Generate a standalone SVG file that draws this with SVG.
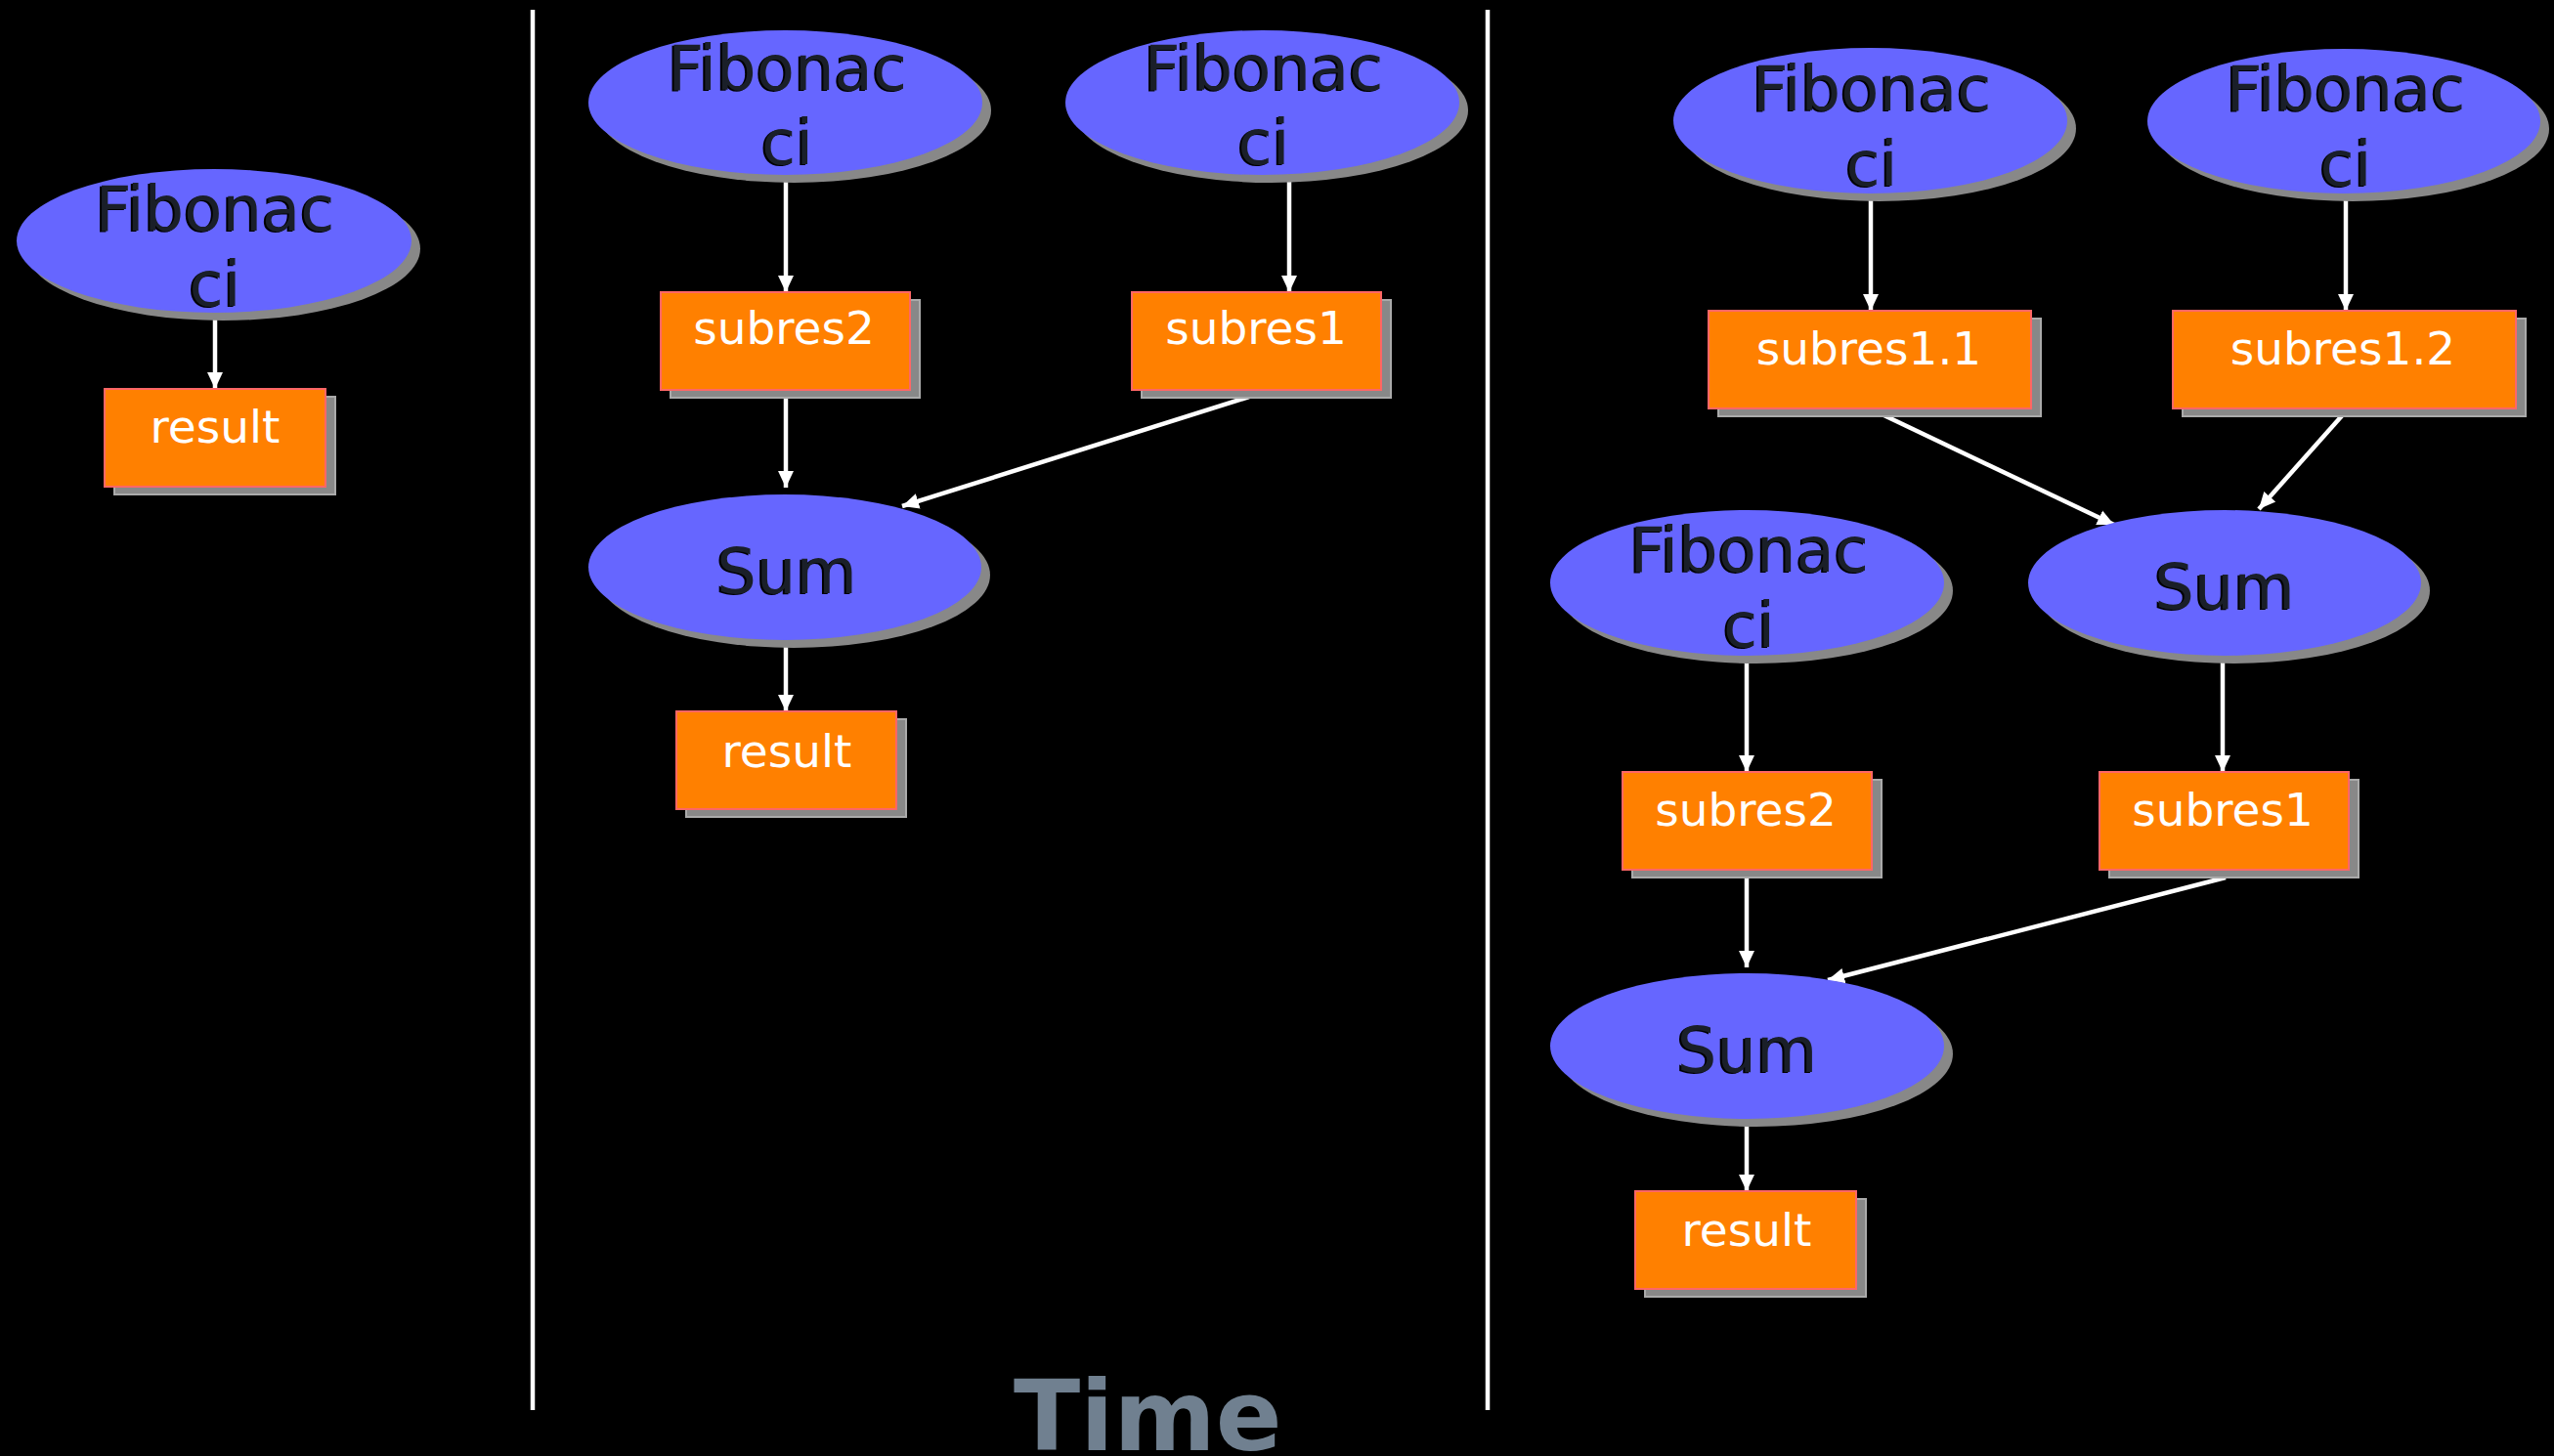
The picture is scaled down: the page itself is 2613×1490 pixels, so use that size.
<svg xmlns="http://www.w3.org/2000/svg" width="2613" height="1490" viewBox="0 0 2613 1490">
<style>
.bg{fill:#000}
.ell{fill:#6666FF}
.esh{fill:#888888}
.box{fill:#FF8000;stroke:#FF6666;stroke-width:2}
.bsh{fill:#888888;stroke:#AAAAAA;stroke-width:2}
.et{font-family:"DejaVu Sans",sans-serif;font-size:64px;fill:#1a1f29;text-anchor:middle}
.ets{font-family:"DejaVu Sans",sans-serif;font-size:64px;fill:#000;text-anchor:middle}
.bt{font-family:"DejaVu Sans",sans-serif;font-size:47px;fill:#fff;text-anchor:middle}
.edge{stroke:#fff;stroke-width:4.5;fill:none;marker-end:url(#arr)}
.sep{stroke:#fff;stroke-width:4.5}
.time{font-family:"DejaVu Sans",sans-serif;font-size:100px;font-weight:bold;fill:#708090}
</style>
<defs>
<marker id="arr" markerUnits="userSpaceOnUse" markerWidth="18" markerHeight="18" viewBox="0 0 18 18" refX="17" refY="9" orient="auto">
<path d="M0,1 L17,9 L0,17 Z" fill="#fff"/>
</marker>
</defs>
<rect class="bg" x="0" y="0" width="2613" height="1490"/>
<line class="sep" x1="545" y1="10" x2="545" y2="1443"/>
<line class="sep" x1="1522" y1="10" x2="1522" y2="1443"/>
<text class="time" x="1037" y="1484">Time</text>

<g id="connectors">
<line class="edge" x1="220" y1="327" x2="220" y2="398"/>
<line class="edge" x1="804" y1="183" x2="804" y2="299"/>
<line class="edge" x1="1319" y1="183" x2="1319" y2="299"/>
<line class="edge" x1="804" y1="399" x2="804" y2="499"/>
<line class="edge" x1="1278" y1="406" x2="923" y2="518"/>
<line class="edge" x1="804" y1="658" x2="804" y2="728"/>
<line class="edge" x1="1914" y1="201" x2="1914" y2="318"/>
<line class="edge" x1="2400" y1="201" x2="2400" y2="318"/>
<line class="edge" x1="1917" y1="420" x2="2163" y2="537"/>
<line class="edge" x1="2400" y1="421" x2="2311" y2="521"/>
<line class="edge" x1="1787" y1="677" x2="1787" y2="790"/>
<line class="edge" x1="2274" y1="677" x2="2274" y2="790"/>
<line class="edge" x1="1787" y1="890" x2="1787" y2="990"/>
<line class="edge" x1="2277" y1="898" x2="1870" y2="1003"/>
<line class="edge" x1="1787" y1="1148" x2="1787" y2="1219"/>
</g>

<g id="fib1">
<ellipse class="esh" cx="228" cy="254.5" rx="202" ry="73.5"/>
<ellipse class="ell" cx="219" cy="246.5" rx="202" ry="73.5"/>
<text class="ets" x="218" y="237">Fibonac</text><text class="et" x="220" y="236">Fibonac</text>
<text class="ets" x="218" y="314">ci</text><text class="et" x="220" y="313">ci</text>
</g>
<g id="result1">
<rect class="bsh" x="117" y="406" width="226" height="100"/>
<rect class="box" x="107" y="398" width="226" height="100"/>
<text class="bt" x="220" y="453">result</text>
</g>

<g id="fib2a">
<ellipse class="esh" cx="812.5" cy="113" rx="201.5" ry="74"/>
<ellipse class="ell" cx="803.5" cy="105" rx="201.5" ry="74"/>
<text class="ets" x="803.5" y="93">Fibonac</text><text class="et" x="805.5" y="92">Fibonac</text>
<text class="ets" x="803.5" y="169">ci</text><text class="et" x="805.5" y="168">ci</text>
</g>
<g id="subres2a">
<rect class="bsh" x="686" y="307" width="255" height="100"/>
<rect class="box" x="676" y="299" width="255" height="100"/>
<text class="bt" x="802" y="352">subres2</text>
</g>
<g id="fib2b">
<ellipse class="esh" cx="1300.5" cy="113" rx="201.5" ry="74"/>
<ellipse class="ell" cx="1291.5" cy="105" rx="201.5" ry="74"/>
<text class="ets" x="1291" y="93">Fibonac</text><text class="et" x="1293" y="92">Fibonac</text>
<text class="ets" x="1291" y="169">ci</text><text class="et" x="1293" y="168">ci</text>
</g>
<g id="subres1a">
<rect class="bsh" x="1168" y="307" width="255" height="100"/>
<rect class="box" x="1158" y="299" width="255" height="100"/>
<text class="bt" x="1285" y="352">subres1</text>
</g>
<g id="sum2">
<ellipse class="esh" cx="812" cy="588.5" rx="201" ry="74.5"/>
<ellipse class="ell" cx="803" cy="580.5" rx="201" ry="74.5"/>
<text class="ets" x="803" y="608">Sum</text><text class="et" x="805" y="607">Sum</text>
</g>
<g id="result2">
<rect class="bsh" x="702" y="736" width="225" height="100"/>
<rect class="box" x="692" y="728" width="225" height="100"/>
<text class="bt" x="805" y="785">result</text>
</g>

<g id="fib3a">
<ellipse class="esh" cx="1922.5" cy="131.5" rx="201.5" ry="74.5"/>
<ellipse class="ell" cx="1913.5" cy="123.5" rx="201.5" ry="74.5"/>
<text class="ets" x="1913" y="114">Fibonac</text><text class="et" x="1915" y="113">Fibonac</text>
<text class="ets" x="1913" y="191">ci</text><text class="et" x="1915" y="190">ci</text>
</g>
<g id="subres11">
<rect class="bsh" x="1758" y="326" width="330" height="100"/>
<rect class="box" x="1748" y="318" width="330" height="100"/>
<text class="bt" x="1912" y="373">subres1.1</text>
</g>
<g id="fib3b">
<ellipse class="esh" cx="2407" cy="132" rx="201" ry="74"/>
<ellipse class="ell" cx="2398" cy="124" rx="201" ry="74"/>
<text class="ets" x="2398" y="114">Fibonac</text><text class="et" x="2400" y="113">Fibonac</text>
<text class="ets" x="2398" y="191">ci</text><text class="et" x="2400" y="190">ci</text>
</g>
<g id="subres12">
<rect class="bsh" x="2233" y="326" width="351" height="100"/>
<rect class="box" x="2223" y="318" width="351" height="100"/>
<text class="bt" x="2397" y="373">subres1.2</text>
</g>
<g id="fib3c">
<ellipse class="esh" cx="1796.5" cy="604.5" rx="201.5" ry="74.5"/>
<ellipse class="ell" cx="1787.5" cy="596.5" rx="201.5" ry="74.5"/>
<text class="ets" x="1787.5" y="586">Fibonac</text><text class="et" x="1789.5" y="585">Fibonac</text>
<text class="ets" x="1787.5" y="663">ci</text><text class="et" x="1789.5" y="662">ci</text>
</g>
<g id="sum3b">
<ellipse class="esh" cx="2285" cy="604.5" rx="201" ry="74.5"/>
<ellipse class="ell" cx="2276" cy="596.5" rx="201" ry="74.5"/>
<text class="ets" x="2274" y="624">Sum</text><text class="et" x="2276" y="623">Sum</text>
</g>
<g id="subres2b">
<rect class="bsh" x="1670" y="798" width="255" height="100"/>
<rect class="box" x="1660" y="790" width="255" height="100"/>
<text class="bt" x="1786" y="845">subres2</text>
</g>
<g id="subres1b">
<rect class="bsh" x="2158" y="798" width="255" height="100"/>
<rect class="box" x="2148" y="790" width="255" height="100"/>
<text class="bt" x="2274" y="845">subres1</text>
</g>
<g id="sum3c">
<ellipse class="esh" cx="1796.5" cy="1078.5" rx="201.5" ry="74.5"/>
<ellipse class="ell" cx="1787.5" cy="1070.5" rx="201.5" ry="74.5"/>
<text class="ets" x="1785.5" y="1098">Sum</text><text class="et" x="1787.5" y="1097">Sum</text>
</g>
<g id="result3">
<rect class="bsh" x="1683" y="1227" width="226" height="100"/>
<rect class="box" x="1673" y="1219" width="226" height="100"/>
<text class="bt" x="1787" y="1275">result</text>
</g>
</svg>
